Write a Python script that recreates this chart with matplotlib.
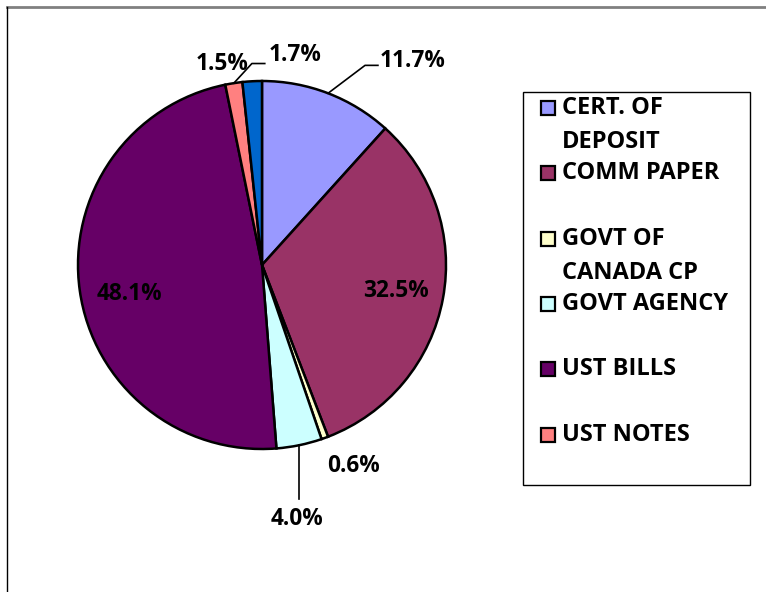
import numpy as np
import matplotlib
matplotlib.use("Agg")
import matplotlib.pyplot as plt
from matplotlib.patches import Rectangle

# ---- data ----
categories = ["CERT. OF\nDEPOSIT", "COMM PAPER", "GOVT OF\nCANADA CP", "GOVT AGENCY",
              "UST BILLS", "UST NOTES", "OTHER"]
values = [11.7, 32.5, 0.6, 4.0, 48.1, 1.5, 1.7]
pct_labels = ["11.7%", "32.5%", "0.6%", "4.0%", "48.1%", "1.5%", "1.7%"]
colors = ["#9999FF", "#993366", "#FFFFCC", "#CCFFFF", "#660066", "#FF8080", "#0066CC"]
legend_count = 6

# label positions (in pie-radius units, relative to centre)
label_pos = [(0.82, 1.11), (0.73, -0.14), (0.50, -1.09), (0.19, -1.38),
             (-0.72, -0.16), (-0.215, 1.09), (0.18, 1.14)]

W, H, DPI = 766, 592, 100
fig = plt.figure(figsize=(W / DPI, H / DPI), dpi=DPI)
fig.patch.set_facecolor("white")

cx, cy, R = 262.0, 265.0, 184.0
ax = fig.add_axes([0, 0, 1, 1])
ax.set_aspect("equal")
ax.axis("off")

font = "Open Sans"
wedges, _ = ax.pie(values, colors=colors, startangle=90, counterclock=False,
                   radius=1.0, center=(0, 0), normalize=True,
                   wedgeprops=dict(edgecolor="black", linewidth=1.8))
ax.set_xlim(-cx / R, (W - cx) / R)
ax.set_ylim(-(H - cy) / R, cy / R)

for (lx, ly), txt in zip(label_pos, pct_labels):
    ax.text(lx, ly, txt, ha="center", va="center", fontsize=16.3,
            fontweight="bold", family=font, color="black")

total = sum(values)
cum = np.cumsum([0] + values)
def edge(i):
    p = (cum[i] + cum[i + 1]) / 2 / total
    a = np.deg2rad(90 - 360 * p)
    return np.cos(a), np.sin(a)

# 11.7%
ex, ey = edge(0)
ax.plot([ex, 0.56, 0.63], [ey, 1.085, 1.085], color="black", lw=1.2)
# 4.0%
ex, ey = edge(3)
ax.plot([ex, ex], [ey, -1.27], color="black", lw=1.2)
# UST NOTES slice leader to 1.7%
ex, ey = edge(5)
ax.plot([ex, -0.055, 0.015], [ey, 1.095, 1.095], color="black", lw=1.2)

# ---- overlay in pixel coordinates: frame + legend ----
ov = fig.add_axes([0, 0, 1, 1], facecolor="none")
ov.set_xlim(0, W)
ov.set_ylim(H, 0)
ov.axis("off")
ov.plot([7, W], [7, 7], color="#808080", lw=2.0)
ov.plot([7, 7], [7, H], color="black", lw=1.0)

ov.add_patch(Rectangle((523, 92), 227, 393, fill=False, edgecolor="black", lw=1.0))
legend_y = [108, 173, 239, 304, 369, 435]
line_gap = 34
for i in range(legend_count):
    y = legend_y[i]
    ov.add_patch(Rectangle((541, y - 7), 14, 14, facecolor=colors[i],
                           edgecolor="black", lw=1.6))
    for k, line in enumerate(categories[i].split("\n")):
        ov.text(562, y + k * line_gap, line, ha="left", va="center", fontsize=17,
                fontweight="bold", family=font, color="black")

fig.savefig("out.png", dpi=DPI, facecolor="white")
